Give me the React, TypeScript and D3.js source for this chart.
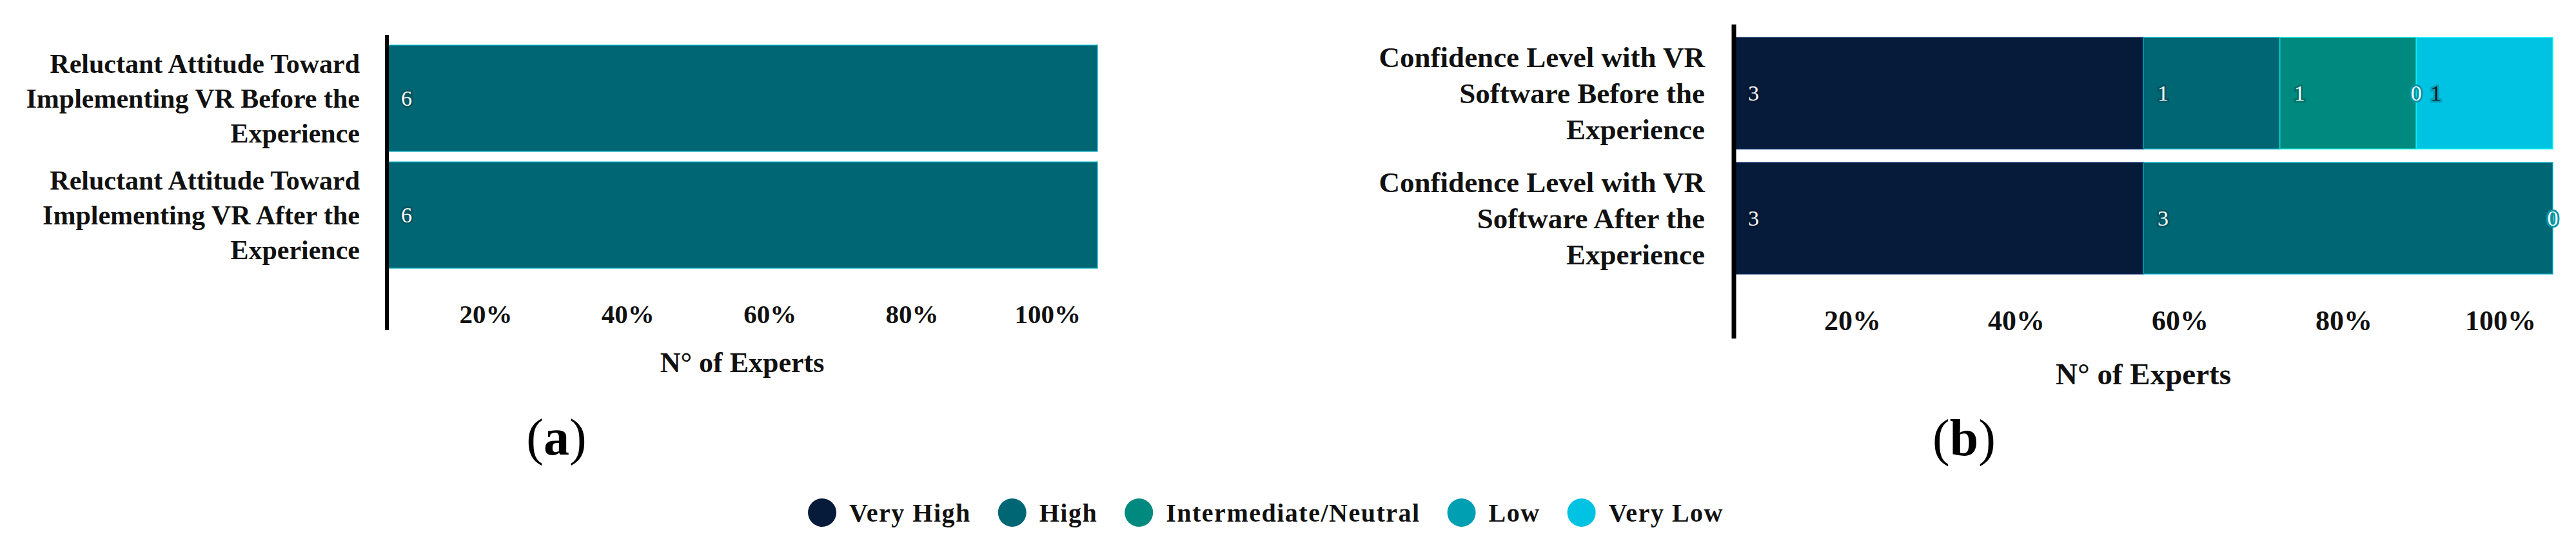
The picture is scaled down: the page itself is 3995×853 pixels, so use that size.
import { useEffect, useRef } from "react";
import * as d3 from "d3";

const levels = ["Very High", "High", "Intermediate/Neutral", "Low", "Very Low"];
const levelColors = ["#061a3a", "#006674", "#00897e", "#009fb1", "#00c2e3"];
const levelTextColors = ["#ffffff", "#ffffff", "#ffffff", "#ffffff", "#111111"];

const reluctanceLabels = [
  ["Reluctant Attitude Toward", "Implementing VR Before the", "Experience"],
  ["Reluctant Attitude Toward", "Implementing VR After the", "Experience"],
];
const reluctanceHigh = [6, 6];

const confidenceLabels = [
  ["Confidence Level with VR", "Software Before the", "Experience"],
  ["Confidence Level with VR", "Software After the", "Experience"],
];
const confidenceVeryHigh = [3, 3];
const confidenceHigh = [1, 3];
const confidenceIntermediate = [1, null];
const confidenceLow = [0, 0];
const confidenceVeryLow = [1, null];

const percentTicks = [20, 40, 60, 80, 100];
const expertsTotal = 6;
const axisTitle = "N° of Experts";

const W = 3995;
const H = 853;
const serif = "'Liberation Serif', 'Times New Roman', serif";

const panels = [
  {
    tag: "a",
    labels: reluctanceLabels,
    series: [null, reluctanceHigh, null, null, null],
    left: 600, right: 1702, top: 70, bottom: 416, pad: 0.09,
    axisTop: 54, axisBottom: 512, axisW: 6,
    tickY: 487, titleY: 562, tagX: 863, tagY: 677,
    font: 42, lineGap: 54,
  },
  {
    tag: "b",
    labels: confidenceLabels,
    series: [confidenceVeryHigh, confidenceHigh, confidenceIntermediate, confidenceLow, confidenceVeryLow],
    left: 2689, right: 3959, top: 58, bottom: 425, pad: 0.108,
    axisTop: 38, axisBottom: 525, axisW: 7,
    tickY: 497, titleY: 580, tagX: 3046, tagY: 678,
    font: 45, lineGap: 56,
  },
];

const App = () => {
  const ref = useRef(null);

  useEffect(() => {
    const svg = d3.select(ref.current);
    svg.selectAll("*").remove();
    svg.append("rect").attr("width", W).attr("height", H).attr("fill", "#fff");

    panels.forEach(p => {
      const g = svg.append("g");
      const cats = p.labels.map((_, i) => i);
      const x = d3.scaleLinear().domain([0, expertsTotal]).range([p.left, p.right]);
      const y = d3.scaleBand().domain(cats).range([p.top, p.bottom]).paddingInner(p.pad).paddingOuter(0);

      // stacked segments
      const segs = [];
      cats.forEach(i => {
        let acc = 0;
        p.series.forEach((vals, k) => {
          if (!vals || vals[i] == null) return;
          segs.push({ i, k, x0: acc, x1: acc + vals[i], v: vals[i] });
          acc += vals[i];
        });
      });

      g.selectAll("rect.seg")
        .data(segs.filter(d => d.v > 0))
        .join("rect")
        .attr("class", "seg")
        .attr("x", d => x(d.x0))
        .attr("y", d => y(d.i))
        .attr("width", d => x(d.x1) - x(d.x0))
        .attr("height", y.bandwidth())
        .attr("fill", d => levelColors[d.k])
        .attr("stroke", d => d3.color(levelColors[d.k]).brighter(1.6).formatHex())
        .attr("stroke-opacity", 0.6)
        .attr("stroke-width", 2);

      g.selectAll("text.val")
        .data(segs)
        .join("text")
        .attr("class", "val")
        .attr("x", d => (d.v === 0 ? x(d.x0) : x(d.x0) + 22))
        .attr("y", d => y(d.i) + y.bandwidth() / 2)
        .attr("dy", "0.35em")
        .attr("text-anchor", d => (d.v === 0 ? "middle" : "start"))
        .attr("font-family", serif)
        .attr("font-size", 34)
        .attr("fill", d => levelTextColors[d.k])
        .attr("stroke", d => d3.color(levelColors[d.k]).darker(d.v === 0 ? 0.2 : 0.5).formatHex())
        .attr("stroke-width", 6)
        .attr("paint-order", "stroke")
        .text(d => d.v);

      // axis line
      g.append("line")
        .attr("x1", p.left).attr("x2", p.left)
        .attr("y1", p.axisTop).attr("y2", p.axisBottom)
        .attr("stroke", "#000")
        .attr("stroke-width", p.axisW);

      // category labels
      cats.forEach(i => {
        const lines = p.labels[i];
        const cy = y(i) + y.bandwidth() / 2;
        g.append("text")
          .attr("text-anchor", "end")
          .attr("font-family", serif)
          .attr("font-weight", "bold")
          .attr("font-size", p.font)
          .attr("fill", "#111")
          .selectAll("tspan")
          .data(lines)
          .join("tspan")
          .attr("x", p.left - p.font)
          .attr("y", (_, j) => cy + (j - (lines.length - 1) / 2) * p.lineGap)
          .attr("dy", "0.35em")
          .text(d => d);
      });

      // percent ticks
      g.selectAll("text.tick")
        .data(percentTicks)
        .join("text")
        .attr("class", "tick")
        .attr("x", d => x((d / 100) * expertsTotal) - 26)
        .attr("y", p.tickY)
        .attr("dy", "0.35em")
        .attr("text-anchor", "end")
        .attr("font-family", serif)
        .attr("font-weight", "bold")
        .attr("font-size", p.font - 1)
        .attr("fill", "#111")
        .text(d => `${d}%`);

      g.append("text")
        .attr("x", (p.left + p.right) / 2)
        .attr("y", p.titleY)
        .attr("dy", "0.35em")
        .attr("text-anchor", "middle")
        .attr("font-family", serif)
        .attr("font-weight", "bold")
        .attr("font-size", p.font + 2)
        .attr("fill", "#111")
        .text(axisTitle);

      const tag = g.append("text")
        .attr("x", p.tagX)
        .attr("y", p.tagY)
        .attr("dy", "0.35em")
        .attr("text-anchor", "middle")
        .attr("font-family", serif)
        .attr("font-size", 80)
        .attr("fill", "#000");
      tag.append("tspan").text("(");
      tag.append("tspan").attr("font-weight", "bold").text(p.tag);
      tag.append("tspan").text(")");
    });

    // legend, laid out from measured text widths
    const lg = svg.append("g");
    const r = 22;
    let cx = 0;
    levels.forEach((name, k) => {
      const item = lg.append("g").attr("transform", `translate(${cx},0)`);
      item.append("circle").attr("cx", r).attr("cy", 0).attr("r", r).attr("fill", levelColors[k]);
      const t = item.append("text")
        .attr("x", 2 * r + 20)
        .attr("dy", "0.35em")
        .attr("font-family", serif)
        .attr("font-weight", "bold")
        .attr("font-size", 40)
        .attr("letter-spacing", 1.5)
        .attr("fill", "#111")
        .text(name);
      cx += 2 * r + 20 + t.node().getComputedTextLength() + 42;
    });
    const total = cx - 42;
    lg.attr("transform", `translate(${1963 - total / 2},795)`);
  }, []);

  return (
    <svg
      ref={ref}
      width={W}
      height={H}
      style={{ position: "absolute", left: 0, top: 0, display: "block" }}
    />
  );
};

export default App;
